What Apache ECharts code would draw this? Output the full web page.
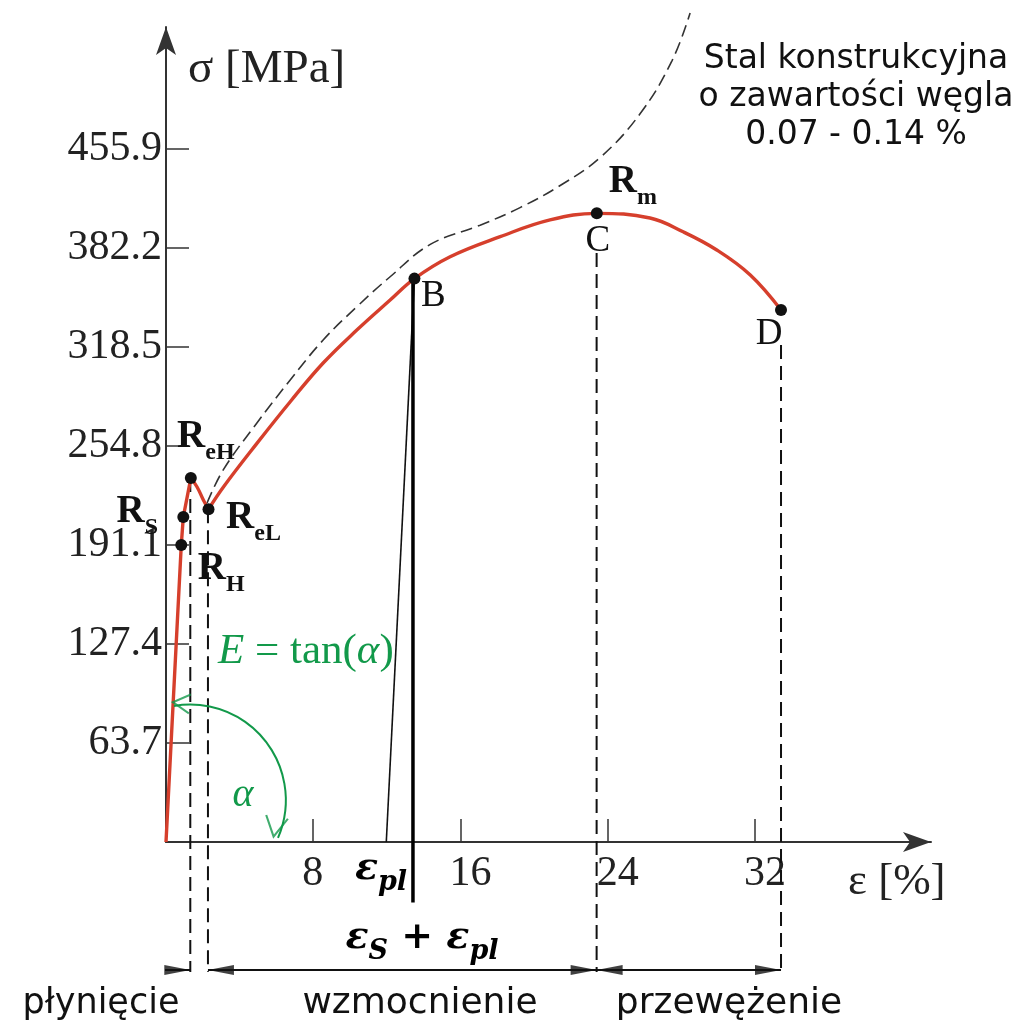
<!DOCTYPE html>
<html><head><meta charset="utf-8">
<script src="https://cdn.jsdelivr.net/npm/echarts@6/dist/echarts.min.js"></script>
<style>html,body{margin:0;padding:0;background:#fff}#c{width:1018px;height:1023px}</style>
</head><body><div id="c"></div>
<script>
// ---- data ----
const xTickValues = [8, 16, 24, 32];
const xTickLabels = ['8', '16', '24', '32'];
const yTickValues = [63.7, 127.4, 191.1, 254.8, 318.5, 382.2, 445.9];
const yTickLabels = ['63.7', '127.4', '191.1', '254.8', '318.5', '382.2', '455.9'];

const elasticPart = [[0, 0], [0.83, 191.1], [0.94, 209.1], [1.35, 234.2]];
const yieldDrop = [[1.35, 234.2], [1.68, 228.6], [2.03, 220.1], [2.31, 214.1]];
const hardeningPart = [[2.31, 214.1], [3.13, 228.6], [4.94, 256.5], [6.75, 283.3], [8.54, 308.2],
  [10.37, 329.4], [12.18, 348.7], [13.5, 362.5], [15.44, 376.6], [18.16, 389.5], [20.87, 400.3],
  [23.41, 404.5], [26.3, 401.5], [28.1, 392.6], [29.93, 380.9], [31.75, 364.8], [33.42, 342.3]];
const trueStress = [[2.23, 218.1], [3.11, 239.4], [4.94, 269.6], [6.75, 297.3], [8.54, 323.0],
  [10.37, 344.4], [12.18, 363.7], [14.36, 384.5], [17.07, 396.9], [19.24, 408.2],
  [21.42, 422.4], [23.59, 440.4], [25.77, 468.7], [27.5, 502.8], [28.48, 533.4]];

const pointNames = ['R_H', 'R_S', 'R_eH', 'R_eL', 'B', 'C', 'D'];
const pointCoords = [[0.83, 191.1], [0.94, 209.1], [1.35, 234.2], [2.31, 214.1], [13.5, 362.5], [23.41, 404.5], [33.42, 342.3]];
const labelTexts = ['{R|R}{s|H}', '{R|R}{s|S}', '{R|R}{s|eH}', '{R|R}{s|eL}', '{n|B}', '{n|C}', '{n|D}', '{R|R}{s|m}'];
const labelAnchors = [[0.83, 191.1], [0.94, 209.1], [1.35, 234.2], [2.31, 214.1], [13.5, 362.5], [23.41, 404.5], [33.42, 342.3], [23.41, 404.5]];

const unloadLine = [[13.5, 362.5], [11.97, 0]];
const strainMarker = [[13.42, 362.5], [13.42, -39]];
const guideX = [1.32, 2.28, 23.4, 33.42];
const guideTop = [234.2, 214.1, 379, 319.8];
const guideBottom = -83.6;
const stageY = -82.4;
const stageSegments = [[-2.21, 1.32], [2.28, 23.4], [23.4, 33.42]];
const arrowRight = [1.32, 23.4, 33.42];
const arrowLeft = [2.28, 23.4];
// angle arc: centre, start point (on the elastic line) and end point (near the x axis)
const arcCenter = [1.32, 27.0];
const arcStart = [0.40, 89.4];
const arcEnd = [5.94, 3.4];

// ---- styles ----
const RED = '#d63f2c', GREEN = '#12994a', INK = '#111', AX = '#333';
const labelOffsets = [[40, 32], [-46, 3], [15, -33], [45, 17], [19, 18], [1, 28], [-12, 24], [36, -23]];
const serif = 'Liberation Serif', sans = 'DejaVu Sans', mathSerif = 'DejaVu Serif';
const richR = {
  R: { fontFamily: serif, fontWeight: 'bold', fontSize: 39, color: INK, lineHeight: 39, verticalAlign: 'bottom', padding: [0, 0, 8, 0] },
  s: { fontFamily: serif, fontWeight: 'bold', fontSize: 24, color: INK, lineHeight: 24, verticalAlign: 'bottom' },
  n: { fontFamily: serif, fontSize: 37, color: INK, lineHeight: 37 }
};
const richEps = {
  e: { fontFamily: mathSerif, fontStyle: 'italic', fontWeight: 'bold', fontSize: 38, fill: '#000', lineHeight: 38, verticalAlign: 'bottom', padding: [0, 0, 8, 0] },
  p: { fontFamily: mathSerif, fontWeight: 'bold', fontSize: 38, fill: '#000', lineHeight: 38, verticalAlign: 'bottom', padding: [0, 0, 8, 0] },
  s: { fontFamily: mathSerif, fontStyle: 'italic', fontWeight: 'bold', fontSize: 27, fill: '#000', lineHeight: 27, verticalAlign: 'bottom' }
};

const chart = echarts.init(document.getElementById('c'), null, { renderer: 'canvas' });

const series = [];
series.push({ type: 'line', data: trueStress, smooth: 0.4, symbol: 'none', clip: false, z: 2,
  lineStyle: { color: '#333', width: 1.6, type: [12, 6] } });
guideX.forEach((x, i) => series.push({ type: 'line', data: [[x, guideTop[i]], [x, guideBottom]], symbol: 'none', clip: false, z: 2,
  lineStyle: { color: INK, width: 2, type: [14, 7] } }));
series.push({ type: 'line', data: elasticPart, symbol: 'none', clip: false, z: 4, lineStyle: { color: RED, width: 3.4 } });
series.push({ type: 'line', data: yieldDrop, smooth: 0.5, symbol: 'none', clip: false, z: 4, lineStyle: { color: RED, width: 3.4 } });
series.push({ type: 'line', data: hardeningPart, smooth: 0.4, symbol: 'none', clip: false, z: 4, lineStyle: { color: RED, width: 3.4 } });
series.push({ type: 'line', data: unloadLine, symbol: 'none', clip: false, z: 3, lineStyle: { color: INK, width: 1.6 } });
series.push({ type: 'line', data: strainMarker, symbol: 'none', clip: false, z: 3, lineStyle: { color: '#000', width: 3.5 } });
stageSegments.forEach(s => series.push({ type: 'line', data: [[s[0], stageY], [s[1], stageY]], symbol: 'none', clip: false, z: 3,
  lineStyle: { color: INK, width: 2 } }));
series.push({ type: 'scatter', data: arrowRight.map(x => [x, stageY]), clip: false, z: 5,
  symbol: 'path://M0,0L26,5L0,10Z', symbolSize: [26, 10], symbolOffset: [-13, 0], itemStyle: { color: INK } });
series.push({ type: 'scatter', data: arrowLeft.map(x => [x, stageY]), clip: false, z: 5,
  symbol: 'path://M26,0L0,5L26,10Z', symbolSize: [26, 10], symbolOffset: [13, 0], itemStyle: { color: INK } });
// green angle arc
series.push({ type: 'custom', clip: false, z: 5, silent: true, data: [[arcCenter[0], arcCenter[1], arcStart[0], arcStart[1], arcEnd[0], arcEnd[1]]],
  renderItem: (params, api) => {
    const c = api.coord([api.value(0), api.value(1)]);
    const p0 = api.coord([api.value(2), api.value(3)]);
    const p1 = api.coord([api.value(4), api.value(5)]);
    const r = (Math.hypot(p0[0] - c[0], p0[1] - c[1]) + Math.hypot(p1[0] - c[0], p1[1] - c[1])) / 2;
    return { type: 'arc', shape: { cx: c[0], cy: c[1], r: r,
      startAngle: Math.atan2(p0[1] - c[1], p0[0] - c[0]), endAngle: Math.atan2(p1[1] - c[1], p1[0] - c[0]), clockwise: true },
      style: { stroke: GREEN, lineWidth: 2, fill: null } };
  } });
series.push({ type: 'scatter', data: [arcStart], clip: false, z: 6,
  symbol: 'path://M18,0L0,10L18,20', symbolSize: [17, 19], symbolOffset: [8, 0], symbolRotate: -6,
  itemStyle: { color: 'none', borderColor: GREEN, borderWidth: 2 } });
series.push({ type: 'scatter', data: [arcEnd], clip: false, z: 6,
  symbol: 'path://M0,0L10,20L20,0', symbolSize: [22, 20], symbolOffset: [0, -10], symbolRotate: -10,
  itemStyle: { color: 'none', borderColor: GREEN, borderWidth: 2 } });
series.push({ type: 'scatter', data: pointCoords.map((c, i) => ({ name: pointNames[i], value: c })), clip: false, z: 7,
  symbol: 'circle', symbolSize: 12, itemStyle: { color: '#111', opacity: 1 } });
series.push({ type: 'scatter', clip: false, z: 8, silent: true, symbol: 'circle', symbolSize: 1,
  itemStyle: { color: 'rgba(255,255,255,0)' },
  data: labelAnchors.map((c, i) => ({ value: c, label: { formatter: labelTexts[i], offset: labelOffsets[i] } })),
  label: { show: true, position: 'inside', align: 'center', verticalAlign: 'middle', color: INK, opacity: 1,
    textBorderWidth: 0, textBorderColor: 'transparent', rich: richR } });

const option = {
  animation: false,
  backgroundColor: '#fff',
  grid: { left: 166, right: 87, top: 27, bottom: 181, containLabel: false, outerBoundsMode: 'none' },
  xAxis: {
    type: 'value', min: 0, max: 41.57,
    name: 'ε [%]', nameLocation: 'end', nameGap: -83,
    nameTextStyle: { fontFamily: serif, fontSize: 45, color: '#222', align: 'left', verticalAlign: 'top', padding: [18, 0, 0, 0] },
    axisLine: { show: true, symbol: ['none', 'arrow'], symbolSize: [15, 28], lineStyle: { color: AX, width: 2 } },
    axisTick: { show: true, inside: true, length: 23, customValues: xTickValues, lineStyle: { color: AX, width: 1.5 } },
    axisLabel: { show: true, customValues: xTickValues, margin: 11, fontFamily: serif, fontSize: 42, color: '#222',
      align: 'left', padding: [0, 0, 0, -11],
      formatter: v => { const i = xTickValues.findIndex(t => Math.abs(t - v) < 1e-6); return i >= 0 ? xTickLabels[i] : ''; } },
    splitLine: { show: false }
  },
  yAxis: {
    type: 'value', min: 0, max: 524.4,
    name: 'σ [MPa]', nameLocation: 'end', nameGap: -43,
    nameTextStyle: { fontFamily: serif, fontSize: 47, color: '#222', align: 'left', verticalAlign: 'middle', padding: [0, 0, 0, 22] },
    axisLine: { show: true, symbol: ['none', 'arrow'], symbolSize: [15, 28], lineStyle: { color: AX, width: 2 } },
    axisTick: { show: true, inside: true, length: 23, customValues: yTickValues, lineStyle: { color: AX, width: 1.5 } },
    axisLabel: { show: true, customValues: yTickValues, margin: 4, fontFamily: serif, fontSize: 42, color: '#222',
      formatter: v => { const i = yTickValues.findIndex(t => Math.abs(t - v) < 1e-6); return i >= 0 ? yTickLabels[i] : ''; } },
    splitLine: { show: false }
  },
  graphic: [
    { type: 'text', x: 856, y: 97, z: 10, style: { text: 'Stal konstrukcyjna\no zawartości węgla\n0.07 - 0.14 %',
      fontFamily: sans, fontSize: 33, lineHeight: 38, fill: '#111', align: 'center', verticalAlign: 'middle' } },
    { type: 'text', x: 218, y: 652, z: 10, style: { text: '{i|E}{n| = tan(}{i|α}{n|)}', align: 'left', verticalAlign: 'middle',
      rich: { i: { fontFamily: serif, fontStyle: 'italic', fontSize: 43, fill: GREEN }, n: { fontFamily: serif, fontSize: 43, fill: GREEN } } } },
    { type: 'text', x: 243, y: 795, z: 10, style: { text: 'α', fontFamily: serif, fontStyle: 'italic', fontSize: 40, fill: GREEN, align: 'center', verticalAlign: 'middle' } },
    { type: 'text', x: 381, y: 877, z: 10, style: { text: '{e|ε}{s|pl}', align: 'center', verticalAlign: 'middle', rich: richEps } },
    { type: 'text', x: 422, y: 946, z: 10, style: { text: '{e|ε}{s|S}{p| + }{e|ε}{s|pl}', align: 'center', verticalAlign: 'middle', rich: richEps } },
    { type: 'text', x: 101, y: 1004, z: 10, style: { text: 'płynięcie', fontFamily: sans, fontSize: 35, fill: '#111', align: 'center', verticalAlign: 'middle' } },
    { type: 'text', x: 420, y: 1004, z: 10, style: { text: 'wzmocnienie', fontFamily: sans, fontSize: 36, fill: '#111', align: 'center', verticalAlign: 'middle' } },
    { type: 'text', x: 729, y: 1004, z: 10, style: { text: 'przewężenie', fontFamily: sans, fontSize: 36, fill: '#111', align: 'center', verticalAlign: 'middle' } }
  ],
  series
};
chart.setOption(option);
</script></body></html>
